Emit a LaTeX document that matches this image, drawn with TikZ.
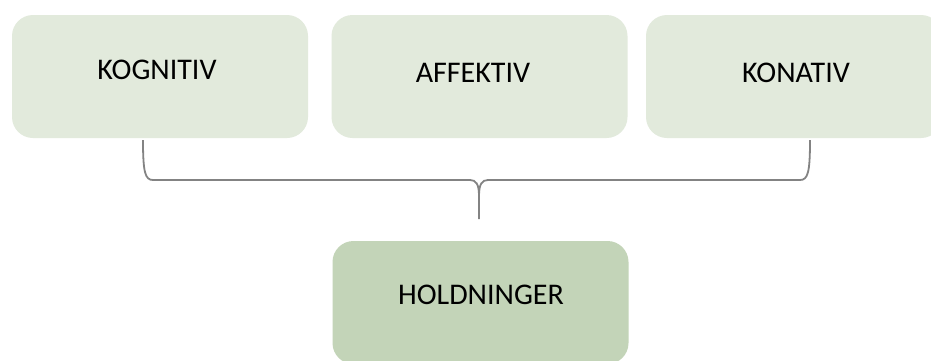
\documentclass[tikz,border=0pt]{standalone}
\usepackage{fontspec}
\setmainfont{Carlito}
\definecolor{boxlight}{HTML}{E2EADC}
\definecolor{boxdark}{HTML}{C3D4B8}
\definecolor{bracegray}{HTML}{838383}
\begin{document}
\begin{tikzpicture}[x=1pt,y=-1pt,
  box/.style={rectangle, rounded corners=21pt, draw=none, minimum width=296pt, minimum height=123pt, inner sep=0pt},
  lbl/.style={font=\fontsize{30}{36}\selectfont, text=black},
  bracel/.style={draw=bracegray, line width=1.8pt}]
\clip (0,0) rectangle (931,360);
\fill[white] (0,0) rectangle (931,360);
\node[box, fill=boxlight] (k) at (160,76.5) {};
\node[box, fill=boxlight] (a) at (479.5,76.5) {};
\node[box, fill=boxlight] (c) at (794,76.5) {};
\node[box, fill=boxdark] (h) at (480.5,302.5) {};
\node[lbl] (kt) at (157,70) {KOGNITIV};
\node[lbl] (at) at (473,73) {AFFEKTIV};
\node[lbl] (ct) at (796,72.5) {KONATIV};
\node[lbl] (ht) at (481,295) {HOLDNINGER};
\coordinate (bl) at (143,140);
\coordinate (br) at (810,140);
\coordinate (bm) at (479,219);
\draw[bracel] (bl) .. controls (143,172) and (145,180) .. (153,180) -- (470,180)
  .. controls (476,180) and (479,184) .. (479,196) -- (bm);
\draw[bracel] (br) .. controls (810,172) and (808,180) .. (800,180) -- (488,180)
  .. controls (482,180) and (479,184) .. (479,196);
\end{tikzpicture}
\end{document}
